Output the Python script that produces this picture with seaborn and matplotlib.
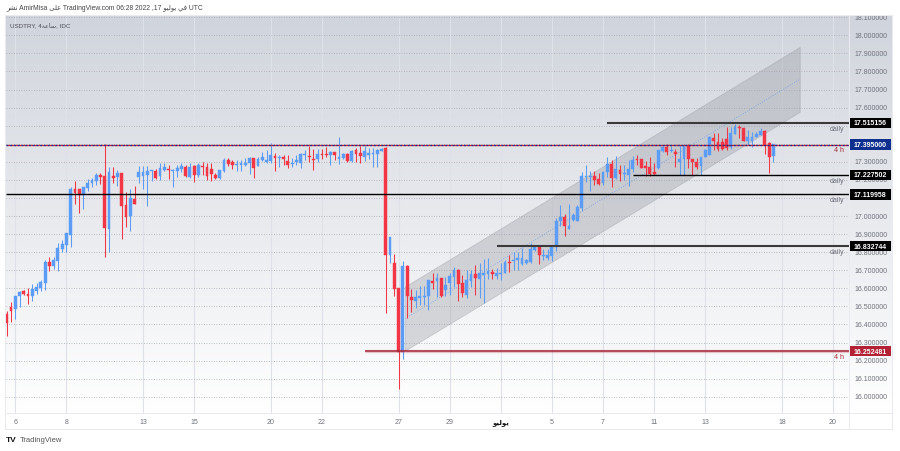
import numpy as np
import pandas as pd
import matplotlib
matplotlib.use("Agg")
import matplotlib.pyplot as plt
from matplotlib.patches import Rectangle
import seaborn as sns

# --------------------
# Data
# --------------------
opens = [
    16.458, 16.496, 16.485, 16.556, 16.585, 16.568, 16.557, 16.587, 16.603, 16.629,
    16.745, 16.723, 16.751, 16.817, 16.840, 16.895, 17.148, 17.148, 17.118, 17.153,
    17.181, 17.194, 17.227, 17.221, 16.930, 17.221, 17.216, 17.238, 17.061, 17.000,
    17.094, 17.216, 17.220, 17.227, 17.251, 17.251, 17.221, 17.255, 17.262, 17.251,
    17.251, 17.258, 17.273, 17.217, 17.277, 17.227, 17.277, 17.271, 17.260, 17.227,
    17.209, 17.251, 17.310, 17.300, 17.284, 17.282, 17.282, 17.293, 17.319, 17.277,
    17.310, 17.299, 17.303, 17.334, 17.321, 17.325, 17.304, 17.288, 17.299, 17.293,
    17.338, 17.332, 17.315, 17.315, 17.345, 17.343, 17.339, 17.354, 17.315, 17.321,
    17.343, 17.304, 17.365, 17.349, 17.327, 17.339, 17.345, 17.343, 17.361, 17.375,
    16.784, 16.738, 16.602, 16.249, 16.723, 16.552, 16.531, 16.548, 16.553, 16.557,
    16.640, 16.640, 16.657, 16.590, 16.629, 16.662, 16.701, 16.629, 16.563, 16.640,
    16.677, 16.651, 16.673, 16.679, 16.692, 16.668, 16.681, 16.685, 16.745, 16.751,
    16.758, 16.733, 16.740, 16.745, 16.812, 16.832, 16.779, 16.766, 16.779, 16.828,
    16.972, 16.993, 16.928, 16.978, 16.972, 17.044, 17.216, 17.216, 17.221, 17.205,
    17.181, 17.243, 17.288, 17.210, 17.255, 17.232, 17.227, 17.260, 17.314, 17.317,
    17.277, 17.271, 17.243, 17.266, 17.361, 17.382, 17.360, 17.356, 17.299, 17.315,
    17.389, 17.315, 17.299, 17.277, 17.327, 17.338, 17.430, 17.410, 17.410, 17.428,
    17.382, 17.454, 17.494, 17.487, 17.415, 17.415, 17.436, 17.448, 17.470, 17.404,
    17.334,
]
closes = [
    16.410, 16.474, 16.557, 16.579, 16.570, 16.557, 16.596, 16.607, 16.635, 16.745,
    16.723, 16.757, 16.823, 16.845, 16.906, 17.148, 17.126, 17.118, 17.162, 17.183,
    17.199, 17.227, 17.216, 16.934, 17.243, 17.210, 17.238, 17.055, 16.994, 17.100,
    17.066, 17.245, 17.245, 17.249, 17.255, 17.210, 17.266, 17.270, 17.255, 17.256,
    17.267, 17.277, 17.220, 17.273, 17.227, 17.282, 17.273, 17.221, 17.232, 17.210,
    17.253, 17.310, 17.288, 17.284, 17.288, 17.293, 17.293, 17.319, 17.267, 17.317,
    17.325, 17.310, 17.339, 17.321, 17.328, 17.315, 17.284, 17.293, 17.310, 17.343,
    17.345, 17.327, 17.310, 17.343, 17.338, 17.339, 17.354, 17.338, 17.327, 17.343,
    17.304, 17.360, 17.343, 17.332, 17.360, 17.349, 17.349, 17.365, 17.369, 16.783,
    16.885, 16.598, 16.246, 16.723, 16.559, 16.535, 16.552, 16.557, 16.557, 16.644,
    16.631, 16.657, 16.557, 16.618, 16.668, 16.701, 16.624, 16.572, 16.646, 16.677,
    16.657, 16.685, 16.685, 16.696, 16.677, 16.685, 16.685, 16.745, 16.740, 16.757,
    16.768, 16.768, 16.757, 16.817, 16.830, 16.783, 16.784, 16.784, 16.834, 16.972,
    16.993, 16.945, 16.945, 17.007, 17.050, 17.221, 17.221, 17.220, 17.199, 17.179,
    17.243, 17.288, 17.210, 17.260, 17.232, 17.238, 17.258, 17.310, 17.308, 17.266,
    17.266, 17.232, 17.232, 17.364, 17.380, 17.356, 17.364, 17.341, 17.315, 17.389,
    17.315, 17.300, 17.273, 17.327, 17.365, 17.437, 17.415, 17.369, 17.371, 17.376,
    17.459, 17.493, 17.489, 17.415, 17.437, 17.437, 17.454, 17.470, 17.391, 17.325,
    17.398,
]
highs = [
    16.474, 16.522, 16.557, 16.585, 16.590, 16.603, 16.622, 16.628, 16.646, 16.757,
    16.773, 16.773, 16.849, 16.867, 16.906, 17.158, 17.195, 17.150, 17.162, 17.205,
    17.212, 17.240, 17.240, 17.397, 17.270, 17.270, 17.255, 17.238, 17.131, 17.148,
    17.166, 17.277, 17.277, 17.277, 17.257, 17.260, 17.292, 17.292, 17.282, 17.262,
    17.284, 17.292, 17.282, 17.292, 17.282, 17.292, 17.300, 17.292, 17.292, 17.236,
    17.253, 17.321, 17.321, 17.310, 17.310, 17.310, 17.321, 17.328, 17.319, 17.328,
    17.356, 17.365, 17.402, 17.350, 17.338, 17.338, 17.338, 17.319, 17.338, 17.350,
    17.365, 17.387, 17.369, 17.371, 17.371, 17.380, 17.360, 17.354, 17.437, 17.347,
    17.347, 17.365, 17.376, 17.387, 17.387, 17.376, 17.376, 17.369, 17.375, 17.380,
    16.885, 16.790, 16.602, 16.749, 16.729, 16.594, 16.590, 16.613, 16.613, 16.644,
    16.683, 16.686, 16.657, 16.664, 16.683, 16.719, 16.705, 16.673, 16.701, 16.701,
    16.729, 16.738, 16.760, 16.766, 16.705, 16.711, 16.738, 16.757, 16.784, 16.802,
    16.799, 16.821, 16.762, 16.849, 16.840, 16.832, 16.819, 16.816, 16.840, 16.991,
    17.061, 17.011, 17.066, 17.017, 17.061, 17.243, 17.284, 17.249, 17.249, 17.236,
    17.249, 17.328, 17.310, 17.332, 17.282, 17.282, 17.310, 17.332, 17.338, 17.317,
    17.304, 17.327, 17.293, 17.364, 17.386, 17.400, 17.386, 17.369, 17.395, 17.397,
    17.397, 17.315, 17.323, 17.327, 17.369, 17.443, 17.461, 17.458, 17.432, 17.494,
    17.494, 17.509, 17.504, 17.487, 17.476, 17.467, 17.465, 17.487, 17.476, 17.410,
    17.398,
]
lows = [
    16.338, 16.415, 16.430, 16.495, 16.563, 16.513, 16.530, 16.570, 16.585, 16.590,
    16.696, 16.707, 16.696, 16.799, 16.801, 16.830, 17.066, 17.018, 17.039, 17.138,
    17.162, 17.170, 17.177, 16.775, 16.799, 17.184, 17.166, 16.875, 16.941, 16.919,
    17.066, 17.184, 17.149, 17.055, 17.195, 17.206, 17.199, 17.251, 17.206, 17.162,
    17.216, 17.245, 17.217, 17.212, 17.190, 17.214, 17.227, 17.199, 17.194, 17.206,
    17.206, 17.245, 17.278, 17.262, 17.251, 17.251, 17.278, 17.232, 17.212, 17.277,
    17.306, 17.295, 17.292, 17.251, 17.273, 17.282, 17.264, 17.270, 17.282, 17.264,
    17.310, 17.299, 17.255, 17.299, 17.314, 17.328, 17.282, 17.310, 17.288, 17.314,
    17.300, 17.300, 17.299, 17.292, 17.304, 17.314, 17.270, 17.270, 17.360, 16.462,
    16.738, 16.559, 16.044, 16.209, 16.434, 16.470, 16.489, 16.507, 16.507, 16.480,
    16.594, 16.553, 16.553, 16.557, 16.563, 16.609, 16.531, 16.553, 16.545, 16.609,
    16.563, 16.545, 16.517, 16.650, 16.650, 16.650, 16.646, 16.683, 16.692, 16.701,
    16.701, 16.729, 16.737, 16.742, 16.808, 16.734, 16.757, 16.757, 16.751, 16.806,
    16.945, 16.891, 16.928, 16.974, 16.972, 17.028, 17.190, 17.138, 17.172, 17.170,
    17.170, 17.217, 17.162, 17.205, 17.195, 17.199, 17.166, 17.242, 17.282, 17.264,
    17.223, 17.223, 17.227, 17.262, 17.356, 17.338, 17.356, 17.273, 17.225, 17.225,
    17.264, 17.227, 17.262, 17.225, 17.325, 17.338, 17.364, 17.361, 17.365, 17.365,
    17.369, 17.454, 17.430, 17.415, 17.393, 17.382, 17.436, 17.447, 17.343, 17.240,
    17.300,
]

price_ticks = [16.0, 16.1, 16.2, 16.3, 16.4, 16.5, 16.6, 16.7, 16.8, 16.9, 17.0,
               17.1, 17.2, 17.3, 17.4, 17.5, 17.6, 17.7, 17.8, 17.9, 18.0, 18.1]
hidden_ticks = [17.4, 17.5]  # covered by the price boxes
july = "\ufeee\ufef4\ufedf\ufeee\ufef3"  # visual order, matplotlib does no shaping
time_ticks = [2, 14, 32, 44, 62, 74, 92, 104, 116, 128, 140, 152, 164, 182, 194]
time_labels = ["6", "8", "13", "15", "20", "22", "27", "29", july, "5", "7", "11", "13", "18", "20"]

# levels: price, first bar, colour, note under the line
levels = [17.515156, 17.227502, 17.119958, 16.832744, 16.252481, 17.395000]
level_start = [141, 147, -1, 115, 84, -1]
level_color = ["#3a3a3a", "#000000", "#000000", "#3a3a3a", "#a8283a", "#d02030"]
level_width = [1.5, 1.0, 1.0, 1.5, 1.1, 0.9]
level_box = ["#000000", "#000000", "#000000", "#000000", "#b22234", "#0f2f8f"]
level_note = ["daily", "daily", "daily", "daily", "4 h", "4 h"]

channel_x = [93.5, 186.2]
channel_low = [16.255, 17.577]
channel_mid = [16.432, 17.756]
channel_high = [16.610, 17.936]

UP = "#5b9cf6"
DOWN = "#f23645"
GRAY = "#6f727c"

df = pd.DataFrame({"bar": np.arange(len(opens)), "open": opens, "close": closes,
                   "high": highs, "low": lows})
df["bottom"] = df[["open", "close"]].min(axis=1)
df["body"] = (df["close"] - df["open"]).abs()
df["up"] = df["close"] >= df["open"]

# --------------------
# Figure
# --------------------
sns.set_theme(style="white")
plt.rcParams["font.family"] = ["Liberation Sans", "DejaVu Sans"]

fig = plt.figure(figsize=(9.0, 4.51), dpi=100, facecolor="white")

# gradient runs under the price scale as well
bg = fig.add_axes([6 / 900, 1 - 413 / 451, 887 / 900, 397 / 451], zorder=0)
shade = np.linspace(0, 1, 256).reshape(-1, 1)
top_rgb = np.array([208, 212, 220]) / 255
img = top_rgb + (1 - top_rgb) * shade[..., None]
bg.imshow(img, aspect="auto", extent=[0, 1, 0, 1], interpolation="bilinear")
bg.axis("off")

ax = fig.add_axes([6 / 900, 1 - 413 / 451, 843 / 900, 397 / 451], zorder=1)
ax.patch.set_alpha(0)

# channel
ax.fill_between(channel_x, channel_low, channel_high, color="#9a9ca4", alpha=0.36,
                linewidth=0.7, zorder=2)
sns.lineplot(x=channel_x, y=channel_mid, color="#6ea0ea", lw=0.6, ls=(0, (1, 2)), ax=ax, zorder=2.1)

# wicks + bodies
for is_up, color in [(True, UP), (False, DOWN)]:
    part = df[df["up"] == is_up]
    ax.vlines(part["bar"], part["low"], part["high"], colors=color, linewidth=0.75, zorder=3)
    sns.barplot(data=part, x="bar", y="body", bottom=part["bottom"].values, native_scale=True,
                color=color, saturation=1, width=0.66, errorbar=None, linewidth=0.3,
                edgecolor=color, ax=ax, zorder=3.1)

# levels
x_right = 197.76
for price, start, color, width in zip(levels, level_start, level_color, level_width):
    x0 = -0.18 if start < 0 else start
    if color == "#a8283a":
        ax.hlines(price, x0, x_right, colors=color, linewidth=2.4, alpha=0.25, zorder=4)
    ax.hlines(price, x0, x_right, colors=color, linewidth=width, zorder=4)
ax.hlines(levels[-1], -0.18, x_right, colors="#0f2f8f", linewidth=0.9, linestyles=(0, (1.5, 1.5)), zorder=4.1)

ax.set_xlim(-0.18, x_right)
ax.set_ylim(15.91, 18.107)
ax.set(xlabel="", ylabel="")

# axes, ticks, grid
ax.yaxis.tick_right()
ax.set_yticks(price_ticks)
ax.set_yticklabels(["" if p in hidden_ticks else f"{p:.6f}" for p in price_ticks])
ax.set_xticks(time_ticks)
ax.set_xticklabels(time_labels)
ax.tick_params(axis="y", length=0, pad=4.2, labelsize=5.0, labelcolor=GRAY)
ax.tick_params(axis="x", length=0, pad=4.6, labelsize=5.0, labelcolor=GRAY)
ax.get_xticklabels()[8].set_color("#111111")
ax.get_xticklabels()[8].set_fontweight("bold")
ax.grid(axis="y", color="#a9abb2", linewidth=0.6, linestyle=(0, (1, 2)))
ax.grid(axis="x", color="#dfe1e8", linewidth=0.8, linestyle="-")
ax.set_axisbelow(True)
for side in ax.spines:
    ax.spines[side].set_visible(False)

# price boxes and notes
ytrans = ax.get_yaxis_transform()
for price, box, note in zip(levels, level_box, level_note):
    ax.add_patch(Rectangle((1.0, price - 0.029), 42 / 843, 0.058, transform=ytrans,
                           facecolor=box, edgecolor="none", clip_on=False, zorder=6))
    ax.text(1.0 + 21 / 843, price, f"{price:.6f}", transform=ytrans, color="white", fontsize=5.0,
            fontweight="bold", ha="center", va="center_baseline", clip_on=False, zorder=7)
    ax.text(196.7, price - 0.034, note, color="#a8283a" if note == "4 h" else GRAY, fontsize=5.1,
            ha="right", va="center", zorder=5)

# pane frame
for x0, y0, w, h in [(5, 15, 888, 1), (5, 15, 1, 415), (892, 15, 1, 415), (5, 429, 888, 1),
                     (5, 413, 888, 1), (849, 16, 1, 414)]:
    fig.add_artist(Rectangle((x0 / 900, 1 - (y0 + h) / 451), w / 900, h / 451,
                             facecolor="#e8eaf0", edgecolor="none", zorder=5))
fig.add_artist(Rectangle((0, 1 - 15 / 451), 1, 15 / 451, facecolor="white", edgecolor="none", zorder=4))

# header and footer text
fig.text(6.5 / 900, 1 - 9 / 451,
         "\ufeae\ufeb8\ufee7 AmirMisa \ufef0\ufee0\ufecb TradingView.com 06:28 2022 ,17 "
         "\ufeee\ufef4\ufedf\ufeee\ufef3 \ufef2\ufed3 UTC",
         fontsize=4.85, color="#444444", va="center", zorder=6)
fig.text(10.5 / 900, 1 - 25 / 451, "USDTRY, 4\ufe94\ufecb\ufe8e\ufeb3, IDC",
         fontsize=4.5, color="#4a4d57", va="center", zorder=6)
fig.text(6 / 900, 1 - 441 / 451, "TV", fontsize=6, fontweight="bold", color="#111111", va="center", zorder=6)
fig.text(20 / 900, 1 - 441 / 451, "TradingView", fontsize=5.5, color="#555555", va="center", zorder=6)

fig.savefig("out.png", dpi=100)
plt.close(fig)
